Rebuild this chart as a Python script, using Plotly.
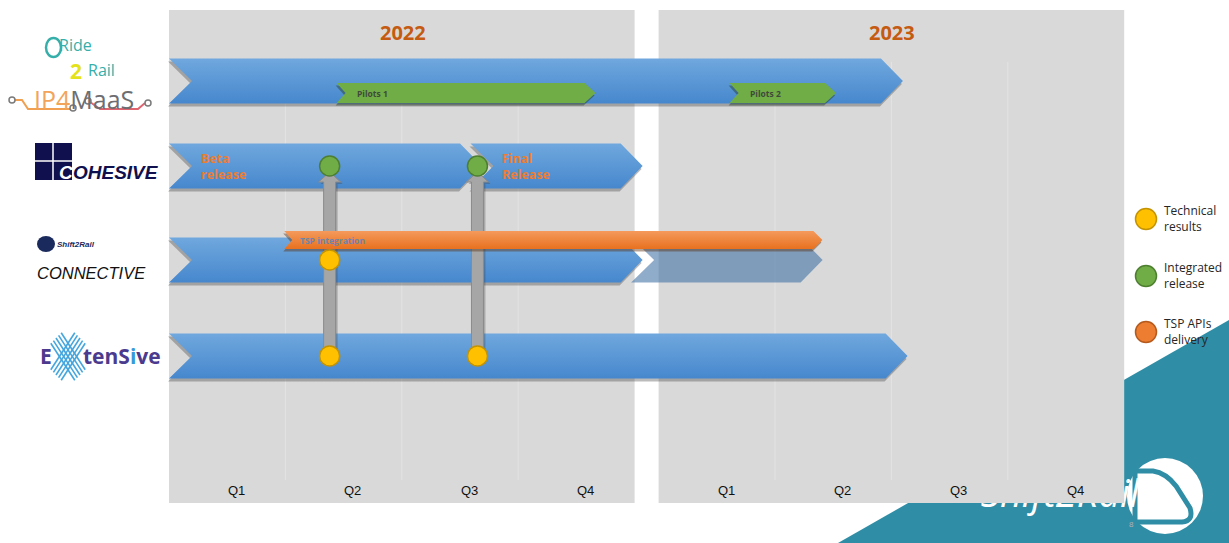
import plotly.graph_objects as go

# ---------------------------------------------------------------- data
YEARS = ["2022", "2023"]
QUARTERS = ["Q1", "Q2", "Q3", "Q4"]
PROJECTS = ["Ride2Rail / IP4MaaS", "COHESIVE", "CONNECTIVE", "ExtenSive"]

# main work-stream arrows, in quarters elapsed since 1 Jan 2022 (body end, before the point)
STREAM_PROJECT = [0, 1, 1, 2, 3]
STREAM_START = [0.0, 0.0, 2.59, 0.0, 0.0]
STREAM_END = [5.91, 2.50, 3.88, 3.88, 5.95]
STREAM_LABEL = ["", "Beta<br>release", "Final<br>Release", "", ""]

# planned continuation of CONNECTIVE (faded)
PLAN_PROJECT = [2]
PLAN_START = [3.97]
PLAN_END = [5.22]

PILOT_NAMES = ["Pilots 1", "Pilots 2"]
PILOT_START = [1.44, 4.61]
PILOT_END = [3.57, 5.43]

TSP_NAME = "TSP integration"
TSP_START = [0.99]
TSP_END = [5.33]

MILESTONE_Q = [1.38, 2.65, 1.38, 1.38, 2.65]
MILESTONE_PROJECT = [1, 1, 2, 3, 3]
MILESTONE_KIND = ["Integrated release", "Integrated release",
                  "Technical results", "Technical results", "Technical results"]

LINK_Q = [1.38, 2.65]
LINK_FROM = [3, 3]
LINK_TO = [1, 1]

LEGEND_KINDS = ["Technical results", "Integrated release", "TSP APIs delivery"]
LEGEND_TEXT = ["Technical<br>results", "Integrated<br>release", "TSP APIs<br>delivery"]

# ---------------------------------------------------------------- layout constants
W, H = 1229, 543
U = 116.4            # px per quarter
X0 = 169             # px of 1 Jan 2022
GAP = 24 / U         # white gap between the year panels
LANE_Y = [81, 166, 260, 356]
LANE_H = 45
PANEL_TOP, PANEL_BOT = 10, 503

KIND_STYLE = {
    "Technical results": ("#ffc000", "#c49300"),
    "Integrated release": ("#70ad47", "#4e7f30"),
    "TSP APIs delivery": ("#ed7d31", "#b55a1c"),
}


def ax(q):
    """quarters elapsed -> x axis value (2023 panel shifted by the gap)"""
    return q + GAP if q > 4 else q


def d(px):
    return px / U


def xp(px):
    return (px - X0) / U


fig = go.Figure()


def poly(xs, ys, color=None, grad=None, line=None, opacity=1):
    kw = dict(x=list(xs) + [xs[0]], y=list(ys) + [ys[0]], mode="lines", fill="toself",
              hoverinfo="skip", showlegend=False, opacity=opacity,
              line=line or dict(width=0, color="rgba(0,0,0,0)"))
    if grad:
        # grad = (top colour, bottom colour)
        kw["fillgradient"] = dict(type="vertical", colorscale=[[0, grad[1]], [1, grad[0]]])
    else:
        kw["fillcolor"] = color
    fig.add_trace(go.Scatter(**kw))


def chevron(x0, x1, yc, h, notch, point):
    t, b = yc - h / 2, yc + h / 2
    return [x0, x1, x1 + point, x1, x0, x0 + notch], [t, t, yc, b, b, yc]


def arrow(x0, x1, yc, h, notch, point, grad, shadow=True):
    if shadow:
        xs, ys = chevron(x0 - d(1), x1 - d(1), yc + 3, h, notch, point)
        poly(xs, ys, color="rgba(60,60,60,0.35)")
    xs, ys = chevron(x0, x1, yc, h, notch, point)
    poly(xs, ys, grad=grad)


# Shift2Rail word mark, drawn first so the 2023 panel covers most of it
fig.add_trace(go.Scatter(x=[xp(1060)], y=[497], mode="text", text=["Shift2Rail"],
                         textfont=dict(color="white", size=38, family="Open Sans", style="italic"),
                         hoverinfo="skip", showlegend=False))

# year panels
for i, yr in enumerate(YEARS):
    a, b = 4 * i + (GAP if i else 0), 4 * i + 4 + (GAP if i else 0)
    poly([a, b, b, a], [PANEL_TOP, PANEL_TOP, PANEL_BOT, PANEL_BOT], color="#d9d9d9")
    for k in range(1, 4):
        fig.add_trace(go.Scatter(x=[a + k, a + k], y=[62, 480], mode="lines",
                                 line=dict(color="#e3e3e3", width=1),
                                 hoverinfo="skip", showlegend=False))

BLUE = ("#70a8de", "#4687cd")
NOTCH, POINT = d(23), d(22)

# faded planned continuation (under the CONNECTIVE arrow)
for p, s, e in zip(PLAN_PROJECT, PLAN_START, PLAN_END):
    xs, ys = chevron(ax(s), ax(e), LANE_Y[p], LANE_H, NOTCH, POINT)
    poly(xs, ys, color="rgba(62,112,165,0.58)")

# main arrows
order = [0, 2, 1, 3, 4]
for i in order:
    p = STREAM_PROJECT[i]
    arrow(ax(STREAM_START[i]), ax(STREAM_END[i]), LANE_Y[p], LANE_H, NOTCH, POINT, BLUE)

# pilots
for n, s, e in zip(PILOT_NAMES, PILOT_START, PILOT_END):
    yc = LANE_Y[0] + 12
    xs, ys = chevron(ax(s) - d(1), ax(e) - d(1), yc + 2.5, 20, d(9), d(11))
    poly(xs, ys, color="rgba(40,60,40,0.45)")
    xs, ys = chevron(ax(s), ax(e), yc, 20, d(9), d(11))
    poly(xs, ys, color="#70ad47")

# vertical links
for q, f, t in zip(LINK_Q, LINK_FROM, LINK_TO):
    x = ax(q)
    yb, yh, yt = LANE_Y[f], LANE_Y[t] + 16, LANE_Y[t] + 6
    xs = [x - d(6), x - d(6), x - d(11), x, x + d(11), x + d(6), x + d(6)]
    ys = [yb, yh, yh, yt, yh, yh, yb]
    poly([v + d(2) for v in xs], [v + 2 for v in ys], color="rgba(60,60,60,0.3)")
    poly(xs, ys, color="#a6a6a6", line=dict(width=1, color="#8a8a8a"))

# TSP integration bar
for s, e in zip(TSP_START, TSP_END):
    yc = LANE_Y[2] - 20
    xs, ys = chevron(ax(s) - d(1), ax(e) - d(1), yc + 2.5, 18, d(8), d(9))
    poly(xs, ys, color="rgba(90,50,20,0.45)")
    xs, ys = chevron(ax(s), ax(e), yc, 18, d(8), d(9))
    poly(xs, ys, grad=("#f49a5c", "#e8711f"))

# milestones
for kind in LEGEND_KINDS:
    xs = [ax(q) for q, k in zip(MILESTONE_Q, MILESTONE_KIND) if k == kind]
    ys = [LANE_Y[p] for p, k in zip(MILESTONE_PROJECT, MILESTONE_KIND) if k == kind]
    if xs:
        fc, lc = KIND_STYLE[kind]
        fig.add_trace(go.Scatter(x=xs, y=ys, mode="markers", showlegend=False, hoverinfo="skip",
                                 marker=dict(size=20, color=fc, line=dict(color=lc, width=1.5))))

# legend
LEG_Y = [219, 276, 332]
for kind, txt, y in zip(LEGEND_KINDS, LEGEND_TEXT, LEG_Y):
    fc, lc = KIND_STYLE[kind]
    fig.add_trace(go.Scatter(x=[xp(1146)], y=[y], mode="markers", showlegend=False, hoverinfo="skip",
                             marker=dict(size=21, color=fc, line=dict(color=lc, width=1.5))))

ann = []


def text(x, y, s, size, color, bold=False, italic=False, xanchor="center", family="Liberation Sans"):
    if bold:
        s = "<b>" + s + "</b>"
    if italic:
        s = "<i>" + s + "</i>"
    ann.append(dict(x=x, y=y, xref="x", yref="y", text=s, showarrow=False, xanchor=xanchor,
                    align=xanchor if xanchor != "center" else "center",
                    yanchor="middle", borderpad=0,
                    font=dict(size=size, color=color, family=family)))


for i, yr in enumerate(YEARS):
    text(2 + 4 * i + (GAP if i else 0) + d(1), 32, yr, 20, "#c55a11", bold=True, family="Open Sans")
    for k, q in enumerate(QUARTERS):
        text(4 * i + k + 0.58 + (GAP if i else 0), 490, q, 13, "#111111")

for i, lab in enumerate(STREAM_LABEL):
    if lab:
        text(ax(STREAM_START[i]) + d(31), LANE_Y[STREAM_PROJECT[i]], lab, 12.5, "#ed7d31",
             bold=True, xanchor="left", family="Open Sans")

for n, s in zip(PILOT_NAMES, PILOT_START):
    text(ax(s) + d(19), LANE_Y[0] + 12, n, 8.5, "#3f4a3a", bold=True, xanchor="left", family="Open Sans")
text(ax(TSP_START[0]) + d(15), LANE_Y[2] - 20, TSP_NAME, 8.5, "#7084a8", bold=True, xanchor="left",
     family="Open Sans")

for txt, y in zip(LEGEND_TEXT, LEG_Y):
    text(xp(1163), y - 1, txt, 12, "#262626", xanchor="left", family="Open Sans")

# logos (project names)
text(xp(75), 45, "Ride", 16, "#36aea9", family="Open Sans")
text(xp(76), 71, "2", 21, "#e4e21b", bold=True, family="Open Sans")
text(xp(101), 70, "Rail", 16, "#36aea9", family="Open Sans")
text(xp(84), 99, "<span style='color:#f2a55a'>IP4</span><span style='color:#6d6e71'>MaaS</span>",
     25, "#6d6e71", family="Open Sans")
text(xp(66), 172, "C", 19, "white", bold=True, italic=True)
text(xp(72), 172, "OHESIVE", 19, "#10104e", bold=True, italic=True, xanchor="left")
text(xp(56), 244, "Shift2Rail", 8, "#1b2a5c", bold=True, italic=True, xanchor="left")
text(xp(91), 273, "CONNECTIVE", 16.5, "#111111", italic=True)
text(xp(46), 356, "E", 21, "#4b3b8f", bold=True, family="Open Sans")
text(xp(82), 356, "<span style='color:#4b3b8f'>tenS</span><span style='color:#3a9ad9'>i</span>"
     "<span style='color:#4b3b8f'>ve</span>", 21, "#4b3b8f", bold=True, xanchor="left",
     family="Open Sans")
text(xp(1131), 524, "8", 8, "#b0b0b0")

# logo decorations
fig.add_trace(go.Scatter(x=[xp(v) for v in [14, 22, 28, 71]], y=[100, 100, 109, 109], mode="lines",
                         line=dict(color="#f0a050", width=2), hoverinfo="skip", showlegend=False))
fig.add_trace(go.Scatter(x=[xp(v) for v in [90, 100, 138, 145]], y=[102, 109, 109, 103], mode="lines",
                         line=dict(color="#e06470", width=2), hoverinfo="skip", showlegend=False))
fig.add_trace(go.Scatter(x=[xp(v) for v in [12, 73, 88, 148]], y=[100, 108, 101, 103], mode="markers",
                         marker=dict(size=6, color="white", line=dict(color="#7a7a7a", width=1.5)),
                         hoverinfo="skip", showlegend=False))
# X of ExtenSive
for k in range(-2, 3):
    o = k * 2.6
    fig.add_trace(go.Scatter(x=[xp(56 + o), xp(80 + o)], y=[338 - o, 375 - o], mode="lines",
                             line=dict(color="#45a6de", width=1.6), hoverinfo="skip", showlegend=False))
    fig.add_trace(go.Scatter(x=[xp(56 + o), xp(80 + o)], y=[375 + o, 338 + o], mode="lines",
                             line=dict(color="#45a6de", width=1.6), hoverinfo="skip", showlegend=False))

shapes = []
# bottom-right decoration (under everything)
shapes.append(dict(type="path", xref="x", yref="y", layer="below", line=dict(width=0),
                   fillcolor="#2f8ea6",
                   path=f"M {xp(838)} 543 L {xp(1229)} 320 L {xp(1229)} 543 Z"))
shapes.append(dict(type="circle", xref="x", yref="y", layer="below", line=dict(width=0),
                   fillcolor="white", x0=xp(1127), x1=xp(1203), y0=458, y1=534))
shapes.append(dict(type="path", xref="x", yref="y", layer="below",
                   line=dict(color="#2f8ea6", width=5), fillcolor="white",
                   path=(f"M {xp(1135)} 471 L {xp(1153)} 471 Q {xp(1166)} 473 {xp(1176)} 486 "
                         f"L {xp(1190)} 508 Q {xp(1194)} 521 {xp(1182)} 522 L {xp(1135)} 522 Z")))
# COHESIVE puzzle square
shapes.append(dict(type="rect", xref="x", yref="y", layer="below", line=dict(width=0),
                   fillcolor="#10104e", x0=xp(35), x1=xp(72), y0=143, y1=180))
shapes.append(dict(type="line", xref="x", yref="y", layer="above", line=dict(color="white", width=1.5),
                   x0=xp(53), x1=xp(53), y0=143, y1=180))
shapes.append(dict(type="line", xref="x", yref="y", layer="above", line=dict(color="white", width=1.5),
                   x0=xp(35), x1=xp(72), y0=161, y1=161))
# small Shift2Rail mark for CONNECTIVE
shapes.append(dict(type="circle", xref="x", yref="y", layer="above", line=dict(width=0),
                   fillcolor="#1b2a5c", x0=xp(37), x1=xp(55), y0=236, y1=252))
# Ride2Rail loop
shapes.append(dict(type="circle", xref="x", yref="y", layer="above", line=dict(color="#36aea9", width=2.5),
                   x0=xp(46), x1=xp(61), y0=38, y1=57))

fig.update_layout(
    width=W, height=H, margin=dict(l=0, r=0, t=0, b=0),
    paper_bgcolor="white", plot_bgcolor="white",
    xaxis=dict(range=[xp(0), xp(W)], visible=False, fixedrange=True),
    yaxis=dict(range=[H, 0], visible=False, fixedrange=True),
    annotations=ann, shapes=shapes, showlegend=False,
)

fig.write_html("out.html")
